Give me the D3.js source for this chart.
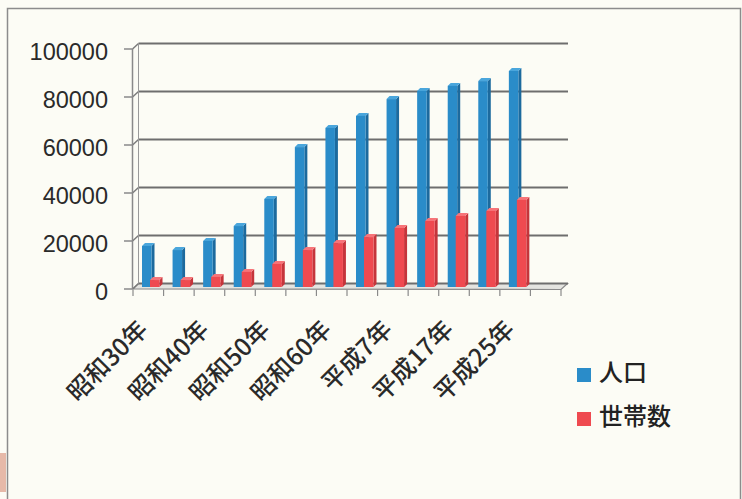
<!DOCTYPE html>
<html><head><meta charset="utf-8">
<script src="https://cdn.jsdelivr.net/npm/d3@7"></script>
<style>html,body{margin:0;padding:0;background:#fcfcf5;}svg{display:block;}</style>
</head><body>
<script>
const categories = ["昭和30年","昭和35年","昭和40年","昭和45年","昭和50年","昭和55年","昭和60年","平成2年","平成7年","平成12年","平成17年","平成22年","平成25年",""];
const population = [17100,15400,19200,25400,36700,58300,66300,71300,78300,81700,83800,85800,90000,null];
const households = [2900,2900,4200,6300,9600,15400,18300,20800,24600,27500,29600,31700,36300,null];
const yTicks = [0,20000,40000,60000,80000,100000];
const seriesNames = ["人口","世帯数"];
const seriesColors = [{front:"#2a8cc9",side:"#1c6a9e",top:"#4aa6dc"},{front:"#ef4a50",side:"#c5353b",top:"#f77479"}];

const W=742,H=499;
const svg=d3.select("body").append("svg").attr("width",W).attr("height",H);
svg.append("rect").attr("width",W).attr("height",H).attr("fill","#fcfcf5");
svg.append("rect").attr("x",0).attr("y",453).attr("width",6).attr("height",39).attr("fill","#e6b9a8");
svg.append("rect").attr("x",7.5).attr("y",8.5).attr("width",733).attr("height",500).attr("fill","none").attr("stroke","#8c8c8c").attr("stroke-width",1.5);

const x=d3.scaleBand().domain(categories).range([133,561]).padding(0);
const yFront=d3.scaleLinear().domain([0,100000]).range([289,49]);
const DX=5.5, DY=-5.5;
const yBar=d3.scaleLinear().domain([0,100000]).range([287,47]);

// floor
svg.append("polygon").attr("points",[[133,289],[133+DX,289+DY],[561+DX+1,289+DY],[561,289.5]].map(p=>p.join(",")).join(" "))
  .attr("fill","#e4e4e0").attr("stroke","#8a8a8a").attr("stroke-width",1.2);

// gridlines (back wall) + side wall diagonals
const g=svg.append("g");
yTicks.forEach(v=>{
  const yf=yFront(v), yb=yf+DY;
  g.append("line").attr("x1",133+DX).attr("x2",568).attr("y1",yb).attr("y2",yb).attr("stroke","#6e6e6e").attr("stroke-width",2);
  g.append("line").attr("x1",132.5).attr("x2",133+DX).attr("y1",yf).attr("y2",yb).attr("stroke","#7a7a7a").attr("stroke-width",1.5);
});
g.append("line").attr("x1",133+DX).attr("x2",133+DX).attr("y1",yFront(100000)+DY).attr("y2",yFront(0)+DY).attr("stroke","#9a9a9a").attr("stroke-width",1);

// front value axis
const ax=svg.append("g");
ax.append("line").attr("x1",132.5).attr("x2",132.5).attr("y1",yFront(100000)).attr("y2",yFront(0)).attr("stroke","#8a8a8a").attr("stroke-width",1.5);
yTicks.forEach(v=>{
  ax.append("line").attr("x1",124).attr("x2",132.5).attr("y1",yFront(v)).attr("y2",yFront(v)).attr("stroke","#8a8a8a").attr("stroke-width",1.5);
  ax.append("text").attr("x",108).attr("y",yFront(v)+2.5).attr("text-anchor","end").attr("dominant-baseline","central")
    .attr("font-family","Liberation Sans, Arial, sans-serif").attr("font-size",23.5).attr("fill","#2a2a2a").text(d3.format("d")(v));
});

// category ticks
const tickX=categories.map(c=>x(c)).concat([x.range()[1]]);
tickX.forEach(tx=>{
  svg.append("line").attr("x1",tx).attr("x2",tx).attr("y1",289.5).attr("y2",296).attr("stroke","#8a8a8a").attr("stroke-width",1.2);
});

// bars
const bw=9.5, bd=3;
function drawBar(gg,xl,v,col){
  if(v==null) return;
  const t=yBar(v), b=yBar(0);
  gg.append("polygon").attr("points",[[xl+bw,t],[xl+bw+bd,t-bd],[xl+bw+bd,b-bd],[xl+bw,b]].map(p=>p.join(",")).join(" ")).attr("fill",col.side);
  gg.append("polygon").attr("points",[[xl,t],[xl+bd,t-bd],[xl+bw+bd,t-bd],[xl+bw,t]].map(p=>p.join(",")).join(" ")).attr("fill",col.top);
  gg.append("rect").attr("x",xl).attr("y",t).attr("width",bw).attr("height",b-t).attr("fill",col.front);
}
const bars=svg.append("g");
categories.forEach((c,i)=>{
  drawBar(bars,x(c)+9,population[i],seriesColors[0]);
  drawBar(bars,x(c)+17,households[i],seriesColors[1]);
});

// category labels (every other)
categories.forEach((c,i)=>{
  if(i%2!==0||!c) return;
  const cx=x(c)+x.bandwidth()/2+1, cy=331;
  svg.append("text").attr("transform",`translate(${cx},${cy}) rotate(-45)`).attr("text-anchor","end")
    .attr("font-family","Noto Sans CJK JP, sans-serif").attr("font-size",24.5).attr("font-weight",500).attr("fill","#2a2a2a").text(c);
});

// legend
const lg=svg.append("g");
seriesNames.forEach((n,i)=>{
  const yy=368+i*44;
  lg.append("rect").attr("x",577).attr("y",yy).attr("width",14).attr("height",14).attr("fill",seriesColors[i].front);
  lg.append("text").attr("x",599).attr("y",yy+13).attr("font-family","Noto Sans CJK JP, sans-serif").attr("font-size",24).attr("font-weight",500).attr("fill","#222").text(n);
});
</script>
</body></html>
